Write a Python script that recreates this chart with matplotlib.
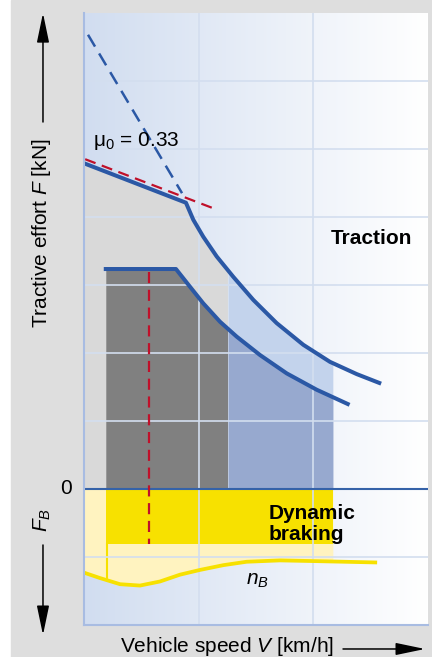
import numpy as np
import matplotlib
matplotlib.use("Agg")
import matplotlib.pyplot as plt
from matplotlib.colors import to_rgb
from matplotlib.patches import Rectangle

plt.rcParams['font.family'] = ['Liberation Sans', 'DejaVu Sans']
plt.rcParams['mathtext.fontset'] = 'custom'
plt.rcParams['mathtext.rm'] = 'Liberation Sans'
plt.rcParams['mathtext.it'] = 'Liberation Sans:italic'
plt.rcParams['mathtext.bf'] = 'Liberation Sans:bold'

# maximum tractive effort (adhesion limit, then power hyperbola)
upper_x = [0.0, 0.889, 0.953, 1.040, 1.157, 1.302, 1.477, 1.680, 1.913, 2.145, 2.378, 2.575]
upper_y = [4.79, 4.21, 3.96, 3.71, 3.42, 3.12, 2.78, 2.44, 2.12, 1.87, 1.69, 1.56]

# continuous tractive effort
lower_x = [0.19, 0.802, 0.924, 1.040, 1.186, 1.332, 1.535, 1.768, 2.029, 2.300]
lower_y = [3.235, 3.235, 2.975, 2.73, 2.46, 2.24, 1.97, 1.70, 1.46, 1.25]

# dynamic braking curve n_B
nb_x = [0.0, 0.14, 0.314, 0.488, 0.663, 0.837, 1.012, 1.215, 1.418, 1.709, 2.0, 2.54]
nb_y = [-1.23, -1.31, -1.40, -1.42, -1.36, -1.26, -1.19, -1.12, -1.07, -1.05, -1.06, -1.08]

# adhesion line mu0 and starting-force line
mu_x = [0.01, 1.125]
mu_y = [4.85, 4.13]
start_x = [0.035, 0.855]
start_y = [6.68, 4.35]

v_start = 0.19      # lower speed of the continuous range
v_split = 1.256     # gray / blue boundary
v_end = 2.17        # right edge of shaded areas
v_mark = 0.567      # red dashed vertical
brake_top = -0.81   # lower edge of strong yellow block

fig = plt.figure(figsize=(4.32, 6.57), dpi=100)
fig.patches.append(Rectangle((11 / 432, 0), 1, 1, transform=fig.transFigure,
                             color='#dedede', zorder=-1))
ax = fig.add_axes([84 / 432, 1 - 625 / 657, 344 / 432, 612 / 657])
ax.set_xlim(0, 3)
ax.set_ylim(-2, 7)

# background gradient
c0, c1 = np.array(to_rgb('#d1ddf0')), np.array(to_rgb('#ffffff'))
t = np.linspace(0, 1, 256)[None, :, None]
ax.imshow(c0 + (c1 - c0) * t, extent=(0, 3, -2, 7), aspect='auto', zorder=0)

# traction areas
xs = np.linspace(0, v_end, 400)
yu = np.interp(xs, upper_x, upper_y)
ax.fill_between(xs, 0, yu, where=xs <= v_split, color='#d9d9d9', lw=0, zorder=1)
ax.fill_between(xs, 0, yu, where=xs >= v_split, color='#c3d3ec', lw=0, zorder=1)
xl = np.linspace(v_start, v_end, 400)
yl = np.interp(xl, lower_x, lower_y)
ax.fill_between(xl, 0, yl, where=xl <= v_split, color='#808080', lw=0, zorder=2)
ax.fill_between(xl, 0, yl, where=xl >= v_split, color='#97a9cf', lw=0, zorder=2)

# braking areas
yb = np.interp(xs, nb_x, nb_y)
ax.fill_between(xs, 0, yb, color='#fff3c0', lw=0, zorder=1)
ax.fill_between([v_start, v_end], brake_top, 0, color='#f7e100', lw=0, zorder=2)
ax.plot([v_start + 0.01, v_start + 0.01], [brake_top, np.interp(v_start, nb_x, nb_y)],
        color='#f7e100', lw=1.5, zorder=2)

# grid
for gx in [1, 2]:
    ax.axvline(gx, color='#d3deef', lw=1.2, zorder=3)
for gy in [-1, 1, 2, 3, 4, 5, 6]:
    ax.axhline(gy, color='#d3deef', lw=1.2, zorder=3)
ax.axhline(0, color='#3562a8', lw=1.5, zorder=4)

# dashed lines
ax.plot(start_x, start_y, color='#2b58a5', lw=1.8, dashes=(5.5, 3.2), zorder=5)
ax.plot([v_mark, v_mark], [lower_y[0] - 0.05, brake_top], color='#c0102a', lw=1.6,
        dashes=(5, 3), zorder=5)

# curves
ax.plot(upper_x, upper_y, color='#2b58a5', lw=2.9, solid_joinstyle='round', zorder=6)
ax.plot(lower_x, lower_y, color='#2b58a5', lw=2.9, solid_joinstyle='round', zorder=6)
ax.plot(nb_x, nb_y, color='#f7e100', lw=2.7, solid_joinstyle='round', zorder=6)
ax.plot(mu_x, mu_y, color='#c0102a', lw=1.6, dashes=(5, 3), zorder=7)

# labels inside
ax.text(0.08, 5.12, r'$\mathrm{\mu}_{\mathrm{0}}$ = 0.33', fontsize=15, va='center', zorder=8)
ax.text(2.15, 3.69, 'Traction', fontsize=15, fontweight='bold', va='center', zorder=8)
ax.text(1.61, -0.52, 'Dynamic\nbraking', fontsize=15, fontweight='bold', va='center',
        linespacing=1.12, zorder=8)
ax.text(1.41, -1.34, '$n_B$', fontsize=15, va='center', zorder=8)

ax.set_xticks([])
ax.set_yticks([])
for s in ['top', 'right']:
    ax.spines[s].set_visible(False)
for s in ['left', 'bottom']:
    ax.spines[s].set_color('#a8bce2')
    ax.spines[s].set_linewidth(1.5)
    ax.spines[s].set_zorder(9)

# axis labels and arrows outside
fig.text(0.097, 0.6446, 'Tractive effort $F$ [kN]', rotation=90, fontsize=15,
         ha='center', va='center')
fig.text(0.153, 1 - 489 / 657, '0', fontsize=15, ha='center', va='center')
fig.text(0.097, 1 - 520 / 657, '$F_B$', rotation=90, fontsize=15, ha='center', va='center')
fig.text(120 / 432, 5.5 / 657, 'Vehicle speed $V$ [km/h]', fontsize=15, ha='left',
         va='baseline')

arrow = dict(arrowstyle='-|>,head_length=1.2,head_width=0.25', mutation_scale=15,
             color='black', lw=1.1, shrinkA=0, shrinkB=0)
ax.annotate('', xy=(0.0995, 0.980), xytext=(0.0995, 0.8143), xycoords='figure fraction',
            textcoords='figure fraction', arrowprops=arrow, annotation_clip=False)
ax.annotate('', xy=(0.0995, 0.0335), xytext=(0.0995, 0.1705), xycoords='figure fraction',
            textcoords='figure fraction', arrowprops=arrow, annotation_clip=False)
ax.annotate('', xy=(0.9838, 0.0122), xytext=(0.794, 0.0122), xycoords='figure fraction',
            textcoords='figure fraction', arrowprops=arrow, annotation_clip=False)

fig.savefig('out.png', dpi=100)
